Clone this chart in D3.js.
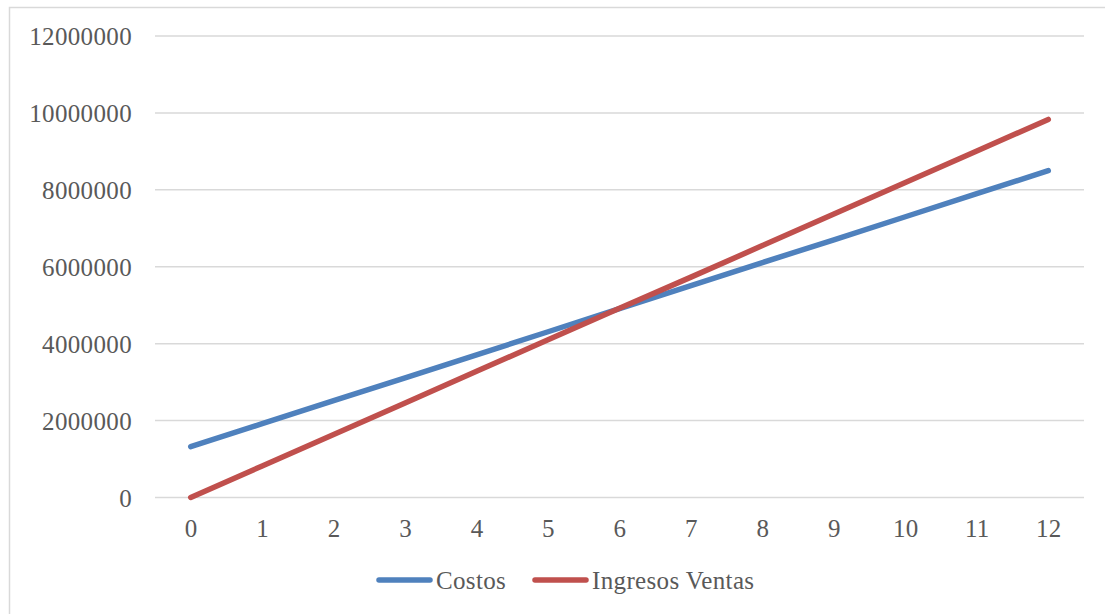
<!DOCTYPE html>
<html>
<head>
<meta charset="utf-8">
<script src="https://cdn.jsdelivr.net/npm/d3@7"></script>
<style>
  html, body { margin: 0; padding: 0; background: #fff; }
  svg { display: block; }
</style>
</head>
<body>
<svg id="chart" width="1105" height="614"></svg>
<script>
// Periods (x axis categories)
const periods = [0, 1, 2, 3, 4, 5, 6, 7, 8, 9, 10, 11, 12];
// Total costs per period
const costos = [1320000, 1920000, 2520000, 3110000, 3710000, 4310000, 4910000,
                5510000, 6110000, 6700000, 7300000, 7900000, 8500000];
// Sales revenue per period
const ingresosVentas = [0, 820000, 1640000, 2460000, 3280000, 4100000, 4920000,
                        5730000, 6550000, 7370000, 8190000, 9010000, 9830000];
// Y axis ticks
const yTicks = [0, 2000000, 4000000, 6000000, 8000000, 10000000, 12000000];

const seriesNames = ["Costos", "Ingresos Ventas"];
const seriesColors = ["#4F81BD", "#C0504D"];

const svg = d3.select("#chart");
const font = "'Liberation Serif', 'DejaVu Serif', serif";
const fontSize = 25;
const spacing = "0.35px";
const textColor = "#595959";

// Chart frame
svg.append("rect")
  .attr("x", 9.5).attr("y", 7.5)
  .attr("width", 1200).attr("height", 700)
  .attr("fill", "#fff")
  .attr("stroke", "#d9d9d9").attr("stroke-width", 1.5);

const plot = { left: 155, right: 1084, top: 36, bottom: 497.5 };

const x = d3.scalePoint()
  .domain(periods)
  .range([plot.left, plot.right])
  .padding(0.5);

const y = d3.scaleLinear()
  .domain([0, 12000000])
  .range([plot.bottom, plot.top]);

// Horizontal gridlines
svg.append("g")
  .selectAll("line")
  .data(yTicks)
  .join("line")
  .attr("x1", plot.left).attr("x2", plot.right)
  .attr("y1", d => y(d)).attr("y2", d => y(d))
  .attr("stroke", "#d9d9d9").attr("stroke-width", 1.5);

// Y axis labels
const yAxis = d3.axisLeft(y).tickValues(yTicks).tickSize(0).tickPadding(0)
  .tickFormat(d3.format("d"));
const gy = svg.append("g")
  .attr("transform", `translate(${132},0)`)
  .call(yAxis);
gy.select(".domain").remove();
gy.selectAll("text")
  .attr("font-family", font).attr("font-size", fontSize)
  .attr("letter-spacing", spacing)
  .attr("fill", textColor).attr("dy", "0.35em");

// X axis labels
const xAxis = d3.axisBottom(x).tickSize(0).tickPadding(0);
const gx = svg.append("g")
  .attr("transform", `translate(0,${528})`)
  .call(xAxis);
gx.select(".domain").remove();
gx.selectAll("text")
  .attr("font-family", font).attr("font-size", fontSize)
  .attr("letter-spacing", spacing)
  .attr("fill", textColor).attr("dy", "0.35em");

// Lines
const line = d3.line()
  .x((d, i) => x(periods[i]))
  .y(d => y(d));

[costos, ingresosVentas].forEach((vals, k) => {
  svg.append("path")
    .datum(vals)
    .attr("d", line)
    .attr("fill", "none")
    .attr("stroke", seriesColors[k])
    .attr("stroke-width", 5.5)
    .attr("stroke-linecap", "round")
    .attr("stroke-linejoin", "round");
});

// Legend
const legendItems = [
  { name: seriesNames[0], color: seriesColors[0], x0: 377 },
  { name: seriesNames[1], color: seriesColors[1], x0: 533 }
];
const legendY = 580;
const lg = svg.append("g");
legendItems.forEach(item => {
  lg.append("line")
    .attr("x1", item.x0 + 2).attr("x2", item.x0 + 53)
    .attr("y1", legendY).attr("y2", legendY)
    .attr("stroke", item.color).attr("stroke-width", 5.5)
    .attr("stroke-linecap", "round");
  lg.append("text")
    .attr("x", item.x0 + 59).attr("y", legendY)
    .attr("dy", "0.35em")
    .attr("font-family", font).attr("font-size", fontSize)
    .attr("letter-spacing", spacing)
    .attr("fill", textColor)
    .text(item.name);
});
</script>
</body>
</html>
